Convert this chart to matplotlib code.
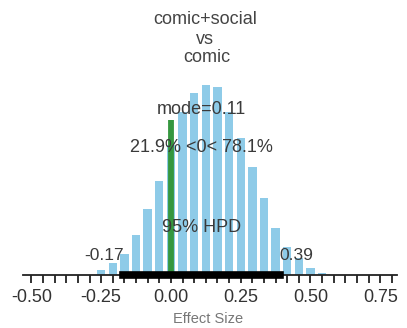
import numpy as np
from matplotlib import pyplot as plt

plt.rcParams['font.family'] = ['Liberation Sans', 'DejaVu Sans']

# posterior samples of the effect size, binned (bin centres every 1/24)
bin_first = -0.25
bin_width = 1.0 / 24
counts = [5, 12, 21, 40, 66, 94, 130, 163, 182, 190, 188, 163, 137, 108, 77, 47, 28, 17, 7, 2]

mode_val = 0.11
hpd_lo = -0.17
hpd_hi = 0.39
pct_below = 21.9
pct_above = 78.1
null_val = 0.0
null_height = 155

title_lines = ["comic+social", "vs", "comic"]
xtick_vals = [-0.50, -0.25, 0.00, 0.25, 0.50, 0.75]
xlabel = "Effect Size"

centres = bin_first + bin_width * np.arange(len(counts))

fig = plt.figure(figsize=(4.07, 3.28), dpi=100)
ax = fig.add_axes([23 / 407, 53 / 328, 374 / 407, 200 / 328])

ax.bar(centres, counts, width=bin_width * 0.72, color='#8ecbe8', zorder=1)

# reference line at zero
ax.plot([null_val, null_val], [0, null_height], color='#35973f', lw=4.2,
        solid_capstyle='butt', zorder=3)

# 95% HPD interval
ax.plot([hpd_lo, hpd_hi], [0, 0], color='black', lw=5.5,
        solid_capstyle='projecting', zorder=4, clip_on=False)

txt = dict(color='#3a3a3a', fontsize=13, ha='center', va='center', zorder=5)
ax.text(mode_val, 165, "mode=%.2f" % mode_val, **txt)
ax.text(mode_val, 127, "%.1f%% <0< %.1f%%" % (pct_below, pct_above), **txt)
ax.text(mode_val, 47, "95% HPD", **txt)
ax.text(hpd_lo, 20, "%.2f" % hpd_lo, color='#3a3a3a', fontsize=12.5,
        ha='right', va='center', zorder=5)
ax.text(hpd_hi, 20, "%.2f" % hpd_hi, color='#3a3a3a', fontsize=12.5,
        ha='left', va='center', zorder=5)

ax.set_xlim(-0.53, 0.81)
ax.set_ylim(0, 200)
ax.set_xticks(xtick_vals)
ax.set_xticklabels(["%.2f" % v for v in xtick_vals])
ax.set_xticks(np.arange(-0.5, 0.80, bin_width), minor=True)
ax.tick_params(axis='x', which='both', direction='out', length=6, width=1.3,
               color='#222222', pad=4)
ax.tick_params(axis='x', which='major', labelsize=13, labelcolor='#333333')
ax.set_yticks([])
for side in ['left', 'right', 'top']:
    ax.spines[side].set_visible(False)
ax.spines['bottom'].set_linewidth(1.3)
ax.spines['bottom'].set_color('#222222')

fig.text(205 / 407, 1 - 19 / 328, title_lines[0], ha='center', va='center',
         fontsize=13, color='#444444')
fig.text(205 / 407, 1 - 39 / 328, title_lines[1], ha='center', va='center',
         fontsize=13, color='#444444')
fig.text(207 / 407, 1 - 58 / 328, title_lines[2], ha='center', va='center',
         fontsize=13, color='#444444')
fig.text(208 / 407, 1 - 319 / 328, xlabel, ha='center', va='center',
         fontsize=10.5, color='#777777')

fig.savefig('out.png', dpi=100)
